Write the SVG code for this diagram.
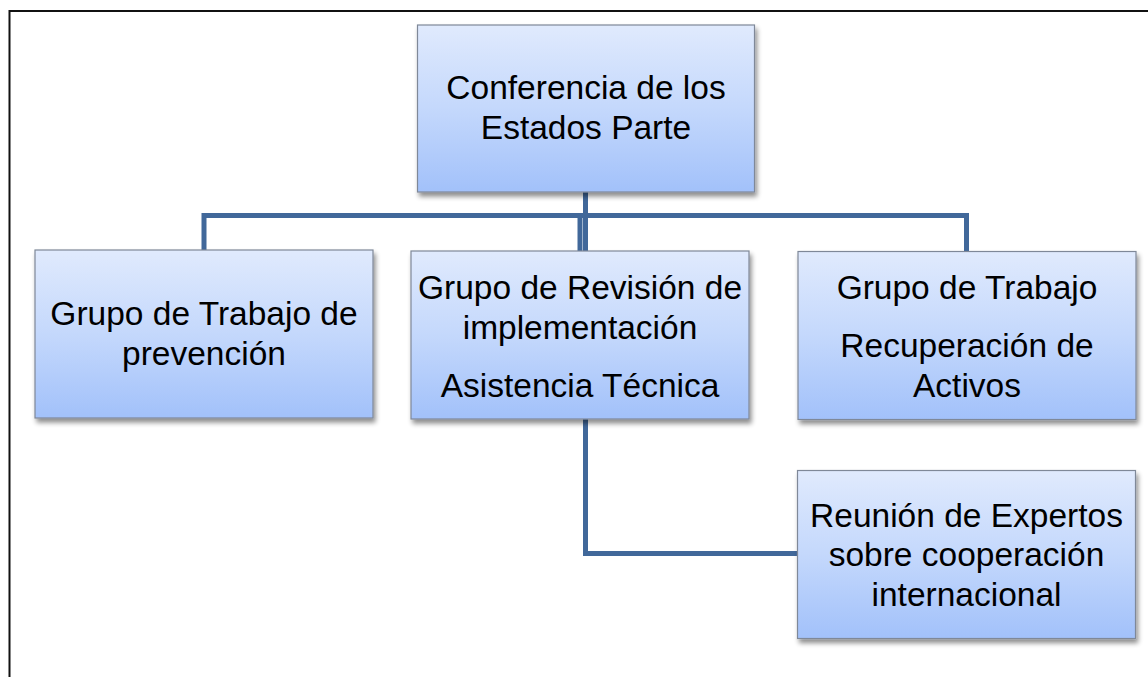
<svg xmlns="http://www.w3.org/2000/svg" width="1148" height="677" viewBox="0 0 1148 677">
<defs>
<linearGradient id="g" x1="0" y1="0" x2="0" y2="1">
<stop offset="0" stop-color="#e0eafd"/>
<stop offset="0.5" stop-color="#c4d8fc"/>
<stop offset="1" stop-color="#a2c1fa"/>
</linearGradient>
<filter id="sh" x="-5%" y="-5%" width="115%" height="120%">
<feGaussianBlur in="SourceAlpha" stdDeviation="2.5"/>
<feOffset dx="2" dy="4" result="b"/>
<feComponentTransfer><feFuncA type="linear" slope="0.45"/></feComponentTransfer>
<feMerge><feMergeNode/><feMergeNode in="SourceGraphic"/></feMerge>
</filter>
</defs>
<style>
.box{fill:url(#g);stroke:#7f8898;stroke-width:1.2;filter:url(#sh)}
.t{font-family:"Liberation Sans",Arial,sans-serif;font-size:33.5px;fill:#000;text-anchor:middle}
.c{fill:none;stroke:#41689a;stroke-width:5;stroke-linejoin:miter}
.frame{fill:none;stroke:#111;stroke-width:2}
</style>
<rect x="0" y="0" width="1148" height="677" fill="#fff"/>
<path class="frame" d="M9.5 677 V11 H1148"/>
<g id="connectors">
<path class="c" d="M585.5 192 V215.5"/>
<path class="c" d="M204 250 V215.5 H966.5 V251.5"/>
<path class="c" d="M580 215.5 V251"/>
<path class="c" d="M585.5 215.5 V251"/>
<path class="c" d="M585.5 419 V553.5 H797.5"/>
</g>
<g id="n-conferencia">
<rect class="box" x="417.5" y="25" width="337" height="167"/>
<text class="t" x="586" y="99">Conferencia de los</text>
<text class="t" x="586" y="139">Estados Parte</text>
</g>
<g id="n-prevencion">
<rect class="box" x="35" y="250" width="338" height="168"/>
<text class="t" x="204" y="324.5">Grupo de Trabajo de</text>
<text class="t" x="204" y="364.5">prevención</text>
</g>
<g id="n-revision">
<rect class="box" x="411" y="251" width="338" height="168"/>
<text class="t" x="580" y="298.5">Grupo de Revisión de</text>
<text class="t" x="580" y="338.5">implementación</text>
<text class="t" x="580" y="396.5">Asistencia Técnica</text>
</g>
<g id="n-activos">
<rect class="box" x="798" y="251.5" width="338" height="168"/>
<text class="t" x="967" y="298.5">Grupo de Trabajo</text>
<text class="t" x="967" y="356.5">Recuperación de</text>
<text class="t" x="967" y="396.5">Activos</text>
</g>
<g id="n-expertos">
<rect class="box" x="797.5" y="470.5" width="338" height="168"/>
<text class="t" x="966.5" y="526.5">Reunión de Expertos</text>
<text class="t" x="966.5" y="566">sobre cooperación</text>
<text class="t" x="966.5" y="605.5">internacional</text>
</g>
</svg>
